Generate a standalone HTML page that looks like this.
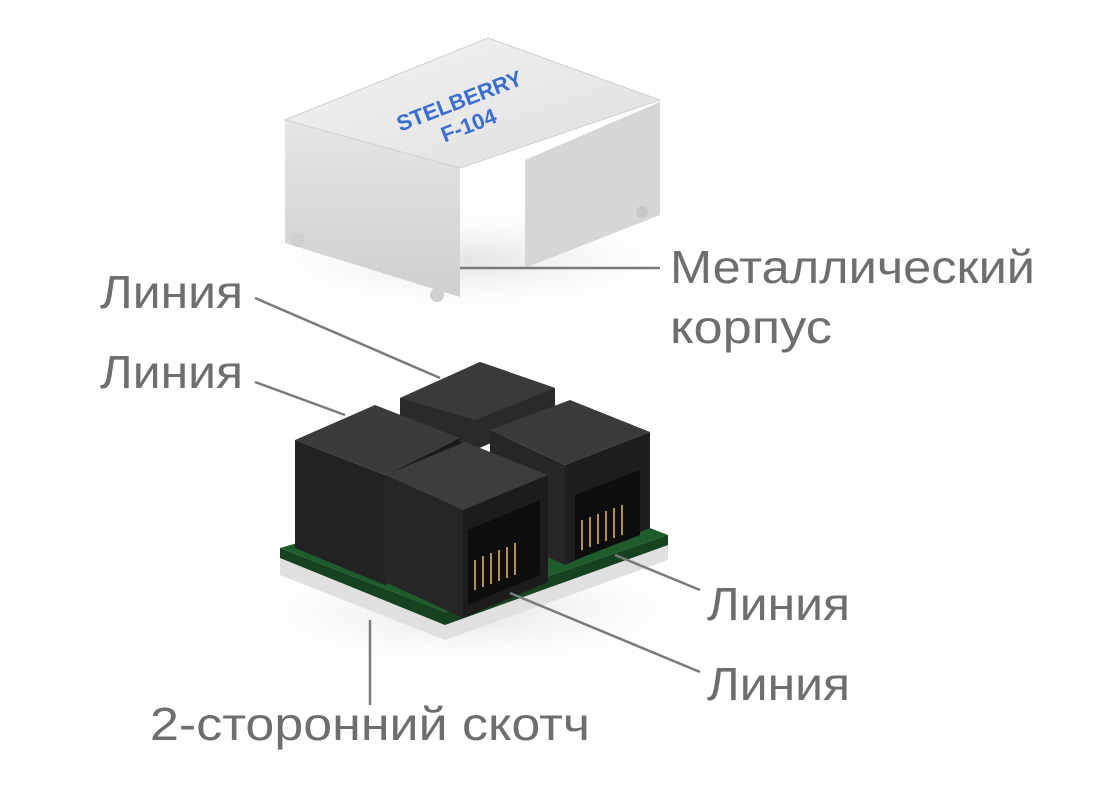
<!DOCTYPE html>
<html><head><meta charset="utf-8"><style>
html,body{margin:0;padding:0;background:#fff;width:1107px;height:787px;overflow:hidden}
svg{display:block}
text{font-family:"Liberation Sans",sans-serif;fill:#6e6e6e;font-size:46px}
</style></head><body>
<svg width="1107" height="787" viewBox="0 0 1107 787">
<defs>
<linearGradient id="cv" x1="0" y1="0" x2="1" y2="1"><stop offset="0" stop-color="#f4f4f4"/><stop offset="1" stop-color="#dedede"/></linearGradient>
<linearGradient id="sd" x1="0" y1="0" x2="0" y2="1"><stop offset="0" stop-color="#e6e6e6"/><stop offset="1" stop-color="#cfcfcf"/></linearGradient>
<radialGradient id="sh" cx="0.5" cy="0.5" r="0.5"><stop offset="0" stop-color="#e4e4e4"/><stop offset="1" stop-color="#fff" stop-opacity="0"/></radialGradient>
</defs>
<ellipse cx="470" cy="610" rx="260" ry="70" fill="url(#sh)"/>
<ellipse cx="470" cy="260" rx="240" ry="60" fill="url(#sh)"/>
<!-- cover -->
<polygon points="525,160 660,102 660,215 525,268" fill="#d6d6d6"/>
<polygon points="285,120 460,168 460,297 285,243" fill="url(#sd)"/>
<polygon points="285,120 488,38 660,100 460,168" fill="url(#cv)" stroke="#cfcfcf"/>
<circle cx="298" cy="240" r="7" fill="#d0d0d0"/><circle cx="437" cy="295" r="7" fill="#d0d0d0"/><circle cx="642" cy="212" r="6" fill="#c8c8c8"/>
<g transform="translate(462,108) rotate(-21)">
<text x="0" y="0" text-anchor="middle" style="fill:#3a6fd0;font-size:22px;font-weight:bold">STELBERRY</text>
<text x="0" y="26" text-anchor="middle" style="fill:#3a6fd0;font-size:22px;font-weight:bold">F-104</text>
</g>
<!-- tape -->
<polygon points="280,558 445,622 668,545 668,560 445,640 280,575" fill="#e0e0e0"/>
<!-- pcb -->
<polygon points="280,548 445,612 668,535 520,478" fill="#1f5c2c"/>
<polygon points="280,548 445,612 668,535 668,545 445,625 280,558" fill="#164220"/>
<!-- back jack -->
<polygon points="400,398 480,362 555,388 555,415 475,450 400,420" fill="#2a2a2a"/>
<polygon points="400,398 480,362 555,388 475,420" fill="#3a3a3a"/>
<!-- left jack -->
<polygon points="295,440 375,405 460,438 385,475" fill="#3b3b3b"/>
<polygon points="295,440 385,475 385,585 295,548" fill="#222"/>
<polygon points="385,475 460,438 460,545 385,585" fill="#1a1a1a"/>
<!-- right jack -->
<polygon points="490,430 570,400 650,432 565,465" fill="#3b3b3b"/>
<polygon points="565,465 650,432 650,528 565,565" fill="#1e1e1e"/>
<polygon points="490,430 565,465 565,565 490,530" fill="#262626"/>
<polygon points="575,495 640,470 640,535 575,560" fill="#0d0d0d"/>
<!-- front jack -->
<polygon points="385,475 465,442 548,475 463,510" fill="#3d3d3d"/>
<polygon points="463,510 548,475 548,582 463,618" fill="#1c1c1c"/>
<polygon points="385,475 463,510 463,618 385,582" fill="#262626"/>
<polygon points="468,530 540,500 540,575 468,605" fill="#0d0d0d"/>
<g stroke="#b8904a" stroke-width="2">
<line x1="475" y1="560" x2="475" y2="590"/><line x1="483" y1="556" x2="483" y2="587"/><line x1="491" y1="553" x2="491" y2="584"/><line x1="499" y1="550" x2="499" y2="581"/><line x1="507" y1="547" x2="507" y2="578"/><line x1="515" y1="543" x2="515" y2="575"/>
<line x1="582" y1="520" x2="582" y2="550"/><line x1="590" y1="517" x2="590" y2="547"/><line x1="598" y1="514" x2="598" y2="544"/><line x1="606" y1="511" x2="606" y2="541"/><line x1="614" y1="508" x2="614" y2="538"/><line x1="622" y1="505" x2="622" y2="535"/>
</g>
<g stroke="#7a7a7a" stroke-width="2.5" fill="none">
<line x1="255" y1="298" x2="440" y2="378"/>
<line x1="255" y1="382" x2="345" y2="415"/>
<line x1="460" y1="268" x2="660" y2="268"/>
<line x1="615" y1="555" x2="700" y2="590"/>
<line x1="510" y1="593" x2="700" y2="672"/>
<line x1="370" y1="620" x2="370" y2="705"/>
</g>
<text x="100" y="308" textLength="143" lengthAdjust="spacingAndGlyphs">Линия</text>
<text x="100" y="388" textLength="143" lengthAdjust="spacingAndGlyphs">Линия</text>
<text x="670" y="283" textLength="365" lengthAdjust="spacingAndGlyphs">Металлический</text>
<text x="670" y="343" textLength="162" lengthAdjust="spacingAndGlyphs">корпус</text>
<text x="707" y="620" textLength="143" lengthAdjust="spacingAndGlyphs">Линия</text>
<text x="707" y="700" textLength="143" lengthAdjust="spacingAndGlyphs">Линия</text>
<text x="150" y="740" textLength="440" lengthAdjust="spacingAndGlyphs">2-сторонний скотч</text>
</svg>
</body></html>
